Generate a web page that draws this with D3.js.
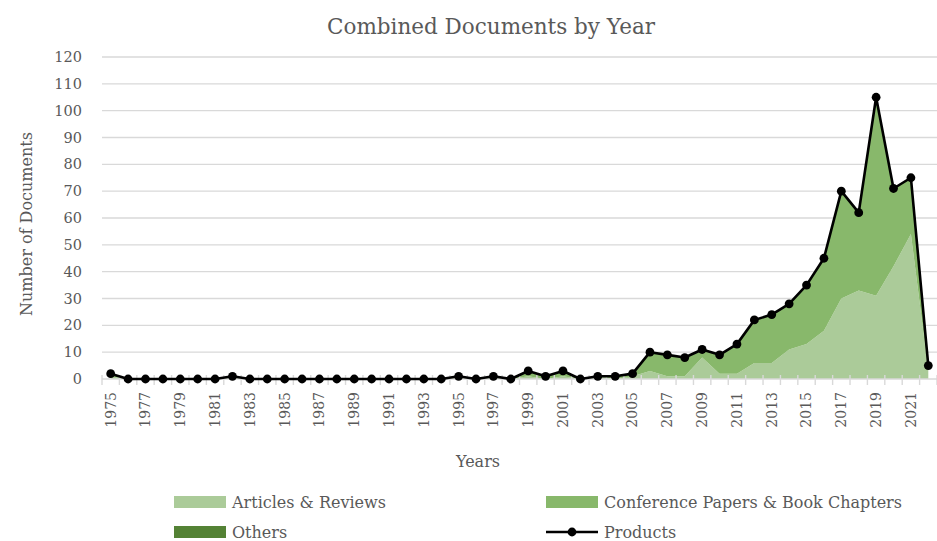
<!DOCTYPE html>
<html><head><meta charset="utf-8">
<script src="https://cdn.jsdelivr.net/npm/d3@7"></script>
<style>
body{margin:0;background:#fff}
svg{display:block}
text{font-family:"DejaVu Serif",serif;fill:#595959}
</style>
</head><body><svg id="chart" width="937" height="541"></svg>
<script>
const years = [1975,1976,1977,1978,1979,1980,1981,1982,1983,1984,1985,1986,1987,1988,1989,1990,1991,1992,1993,1994,1995,1996,1997,1998,1999,2000,2001,2002,2003,2004,2005,2006,2007,2008,2009,2010,2011,2012,2013,2014,2015,2016,2017,2018,2019,2020,2021,2022];
const articles   = [1,0,0,0,0,0,0,1,0,0,0,0,0,0,0,0,0,0,0,0,1,0,1,0,1,0,1,0,1,0,1,3,1,1,8,2,2,6,6,11,13,18,30,33,31,42,54,3];
const conference = [1,0,0,0,0,0,0,0,0,0,0,0,0,0,0,0,0,0,0,0,0,0,0,0,2,1,2,0,0,1,1,7,8,7,3,7,11,16,18,17,22,27,40,29,74,29,21,2];
const others     = [0,0,0,0,0,0,0,0,0,0,0,0,0,0,0,0,0,0,0,0,0,0,0,0,0,0,0,0,0,0,0,0,0,0,0,0,0,0,0,0,0,0,0,0,0,0,0,0];
const products   = [2,0,0,0,0,0,0,1,0,0,0,0,0,0,0,0,0,0,0,0,1,0,1,0,3,1,3,0,1,1,2,10,9,8,11,9,13,22,24,28,35,45,70,62,105,71,75,5];
const yTicks = [0,10,20,30,40,50,60,70,80,90,100,110,120];
const seriesKeys = ["articles","conference","others"];
const seriesNames = ["Articles & Reviews","Conference Papers & Book Chapters","Others"];
const lineName = "Products";
const seriesColors = ["#abcb99","#88b86b","#548235"];

const svg = d3.select("#chart");
const x = d3.scaleBand().domain(years).range([102, 937]);
const y = d3.scaleLinear().domain([0, 120]).range([379, 57]);
const cx = d => x(d) + x.bandwidth() / 2;

// gridlines
svg.append("g").selectAll("line").data(yTicks.filter(t => t > 0)).join("line")
  .attr("x1", 102).attr("x2", 937)
  .attr("y1", d => y(d)).attr("y2", d => y(d))
  .attr("stroke", "#d9d9d9").attr("stroke-width", 1.4);

// stacked areas
const table = years.map((yr, i) => ({year: yr, articles: articles[i], conference: conference[i], others: others[i]}));
const stacked = d3.stack().keys(seriesKeys)(table);
const area = d3.area().x(d => cx(d.data.year)).y0(d => y(d[0])).y1(d => y(d[1]));
svg.append("g").selectAll("path").data(stacked).join("path")
  .attr("d", area).attr("fill", (d, i) => seriesColors[i]);

// x axis line and boundary ticks
svg.append("line").attr("x1", 102).attr("x2", 937).attr("y1", y(0)).attr("y2", y(0))
  .attr("stroke", "#d9d9d9").attr("stroke-width", 1.4);
const bounds = years.map(yr => x(yr)).concat([x.range()[1]]);
svg.append("g").selectAll("line").data(bounds).join("line")
  .attr("x1", d => d).attr("x2", d => d).attr("y1", y(0) - 4).attr("y2", y(0) + 6)
  .attr("stroke", "#d9d9d9").attr("stroke-width", 1.4);

// x tick labels
const xAxis = d3.axisBottom(x).tickValues(years.filter((d, i) => i % 2 === 0)).tickSize(0);
const gx = svg.append("g").attr("transform", `translate(0,${y(0)})`).call(xAxis);
gx.select(".domain").remove();
gx.selectAll("text")
  .attr("transform", "rotate(-90)")
  .attr("x", -13).attr("y", 0).attr("dy", "0.35em")
  .attr("text-anchor", "end")
  .style("font-family", '"DejaVu Serif",serif').style("font-size", "14px").style("fill", "#595959");

// y axis labels
const yAxis = d3.axisLeft(y).tickValues(yTicks).tickSize(0).tickPadding(0);
const gy = svg.append("g").attr("transform", "translate(82,0)").call(yAxis);
gy.select(".domain").remove();
gy.selectAll("text")
  .style("font-family", '"DejaVu Serif",serif').style("font-size", "14.5px").style("fill", "#595959");

// products line
const line = d3.line().x((d, i) => cx(years[i])).y(d => y(d));
svg.append("path").datum(products).attr("d", line)
  .attr("fill", "none").attr("stroke", "#000").attr("stroke-width", 2.6).attr("stroke-linejoin", "round");
svg.append("g").selectAll("circle").data(products).join("circle")
  .attr("cx", (d, i) => cx(years[i])).attr("cy", d => y(d)).attr("r", 4.4).attr("fill", "#000");

// titles
svg.append("text").attr("x", 491).attr("y", 34).attr("text-anchor", "middle")
  .style("font-size", "21.5px").text("Combined Documents by Year");
svg.append("text").attr("transform", "translate(32,224) rotate(-90)").attr("text-anchor", "middle")
  .style("font-size", "16px").text("Number of Documents");
svg.append("text").attr("x", 478).attr("y", 467).attr("text-anchor", "middle")
  .style("font-size", "16px").text("Years");

// legend
const lg = svg.append("g");
const legendItems = [
  {name: seriesNames[0], color: seriesColors[0], x: 174, y: 502},
  {name: seriesNames[1], color: seriesColors[1], x: 546, y: 502},
  {name: seriesNames[2], color: seriesColors[2], x: 174, y: 532}
];
legendItems.forEach(it => {
  lg.append("rect").attr("x", it.x).attr("y", it.y - 6).attr("width", 52).attr("height", 12).attr("fill", it.color);
  lg.append("text").attr("x", it.x + 58).attr("y", it.y + 6).style("font-size", "16px").text(it.name);
});
lg.append("line").attr("x1", 546).attr("x2", 598).attr("y1", 532).attr("y2", 532)
  .attr("stroke", "#000").attr("stroke-width", 2.6);
lg.append("circle").attr("cx", 572).attr("cy", 532).attr("r", 4.4).attr("fill", "#000");
lg.append("text").attr("x", 604).attr("y", 538).style("font-size", "16px").text(lineName);
</script>
</body></html>
